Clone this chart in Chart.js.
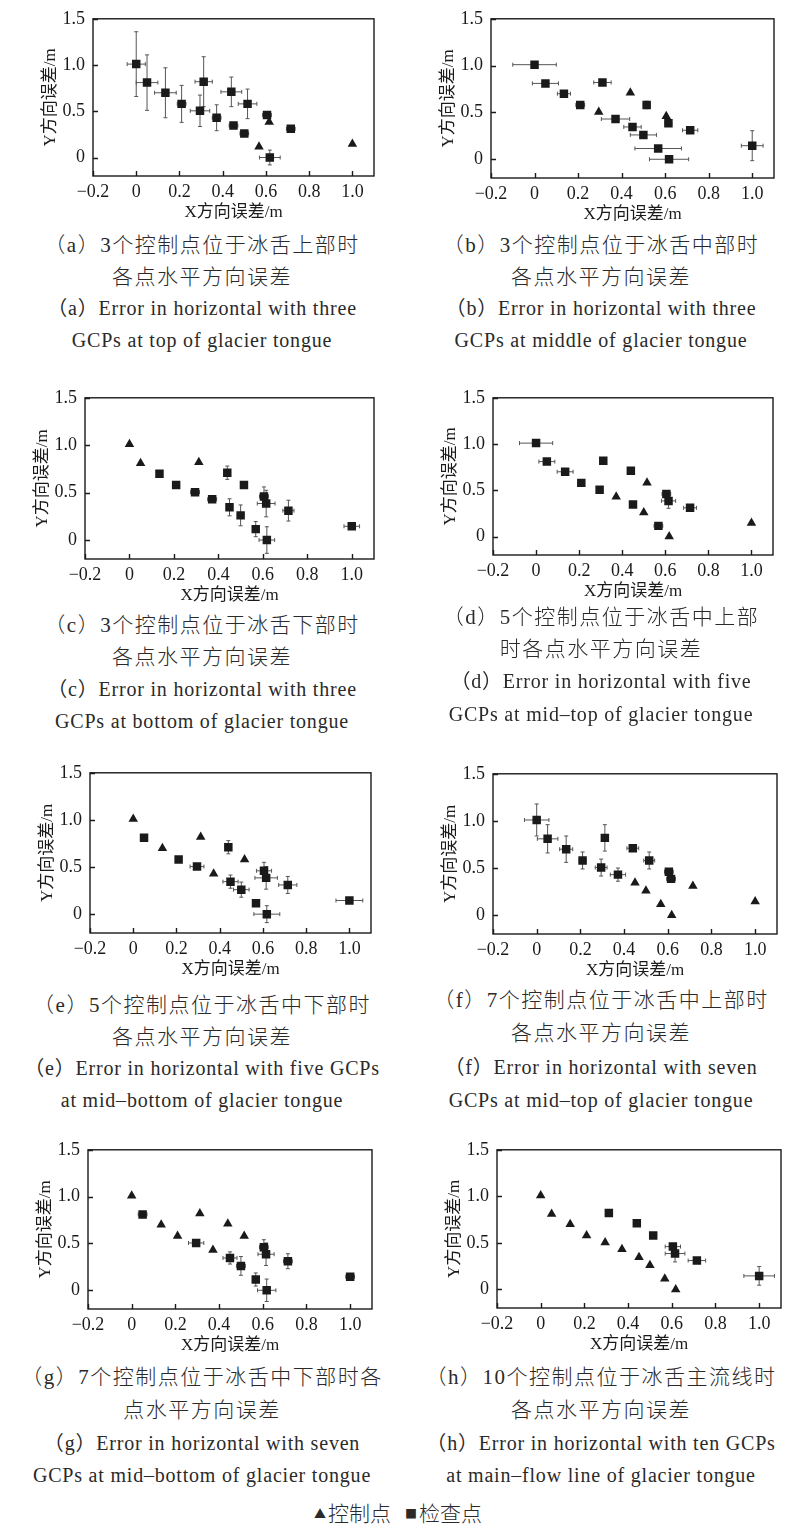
<!DOCTYPE html>
<html lang="zh">
<head>
<meta charset="utf-8">
<title>各点水平方向误差</title>
<script src="https://cdn.jsdelivr.net/npm/chart.js@4.4.1/dist/chart.umd.min.js"></script>
<style>
  html, body { margin: 0; padding: 0; background: #fff; }
  #page { position: relative; width: 796px; height: 1528px; overflow: hidden; background: #fff; }
  #page canvas { position: absolute; }
  .cap {
    position: absolute; width: 440px; height: 32px; line-height: 32px;
    text-align: center; white-space: nowrap; color: #2a2a2a;
    font-family: "Liberation Serif", "Noto Sans CJK SC", serif;
  }
  .cap.cn { font-size: 21px; letter-spacing: 1.5px; font-weight: 300; }
  .cap.en { font-size: 20px; letter-spacing: 0.8px; }
  #legend {
    position: absolute; left: 248px; width: 300px; top: 1496px; height: 32px; line-height: 32px;
    text-align: center; font-family: "Noto Sans CJK SC", sans-serif; font-size: 21px; font-weight: 300; color: #2a2a2a;
  }
  #legend .mk { font-size: 12px; position: relative; top: -2px; margin-right: 2px; }
  #legend .gap { display: inline-block; width: 14px; }
</style>
</head>
<body>
<div id="page">
  <div id="legend"><span class="mk">▲</span>控制点<span class="gap"></span><span class="mk">■</span>检查点</div>
</div>
<script>
// point positions (same 17 points in every panel)
const pointX = [0.0, 0.05, 0.135, 0.21, 0.295, 0.312, 0.372, 0.44, 0.45, 0.515, 0.5, 0.605, 0.615, 0.568, 0.618, 0.715, 1.0];
const pointY = [1.01, 0.81, 0.7, 0.58, 0.505, 0.82, 0.43, 0.71, 0.345, 0.58, 0.26, 0.46, 0.385, 0.115, 0.0, 0.31, 0.145];

const xTicks = [-0.2, 0, 0.2, 0.4, 0.6, 0.8, 1.0];
const xTickLabels = ["−0.2", "0", "0.2", "0.4", "0.6", "0.8", "1.0"];
const yTicks = [0, 0.5, 1.0, 1.5];
const yTickLabels = ["0", "0.5", "1.0", "1.5"];

// control points (1-based point numbers) per panel
const controlA = [13, 14, 17];
const controlB = [5, 8, 12];
const controlC = [1, 2, 6];
const controlD = [7, 10, 11, 15, 17];
const controlE = [1, 3, 6, 7, 10];
const controlF = [9, 11, 14, 15, 16, 17];
const controlG = [1, 3, 4, 6, 7, 8, 10];
const controlH = [1, 2, 3, 4, 5, 7, 9, 11, 14, 15];

// error bar half-widths per panel
const xErrA = [0.042, 0.05, 0.05, 0.02, 0.045, 0.04, 0.02, 0.048, 0.02, 0.043, 0.02, 0.02, 0, 0, 0.048, 0.02, 0];
const yErrA = [0.35, 0.3, 0.27, 0.2, 0.17, 0.27, 0.14, 0.16, 0.03, 0.16, 0.02, 0.03, 0, 0, 0.08, 0.02, 0];
const xErrB = [0.1, 0.06, 0.03, 0.02, 0, 0.04, 0.065, 0, 0.04, 0.015, 0.06, 0, 0.015, 0.107, 0.09, 0.035, 0.05];
const yErrB = [0, 0, 0, 0.015, 0, 0.02, 0, 0, 0, 0.04, 0, 0, 0.02, 0, 0, 0, 0.16];
const xErrC = [0, 0, 0, 0, 0.02, 0, 0.02, 0, 0, 0, 0, 0.02, 0.04, 0, 0.035, 0.025, 0.035];
const yErrC = [0, 0, 0, 0, 0, 0, 0, 0.07, 0.09, 0, 0.11, 0.1, 0.14, 0.08, 0.14, 0.11, 0];
const xErrD = [0.077, 0.037, 0.037, 0, 0, 0.015, 0, 0.015, 0, 0, 0, 0.02, 0.033, 0.02, 0, 0.03, 0];
const yErrD = [0, 0, 0, 0, 0, 0.015, 0, 0.03, 0, 0, 0, 0.03, 0.08, 0, 0, 0, 0];
const xErrE = [0, 0, 0, 0, 0.032, 0, 0, 0, 0.035, 0, 0.036, 0.035, 0.052, 0.015, 0.06, 0.042, 0.062];
const yErrE = [0, 0, 0, 0, 0, 0, 0, 0.07, 0.07, 0, 0.08, 0.09, 0.12, 0.02, 0.09, 0.09, 0];
const xErrF = [0.056, 0.047, 0.03, 0.015, 0.027, 0, 0.035, 0.027, 0, 0.025, 0, 0.02, 0.02, 0, 0, 0, 0];
const yErrF = [0.17, 0.15, 0.14, 0.09, 0.09, 0.14, 0.07, 0.02, 0, 0.09, 0, 0.02, 0.02, 0, 0, 0, 0];
const xErrG = [0, 0.02, 0, 0, 0.035, 0, 0, 0, 0.032, 0, 0.02, 0.02, 0.037, 0.015, 0.042, 0.02, 0.02];
const yErrG = [0, 0, 0, 0, 0, 0, 0, 0, 0.065, 0, 0.1, 0.08, 0.12, 0.07, 0.12, 0.08, 0.015];
const xErrH = [0, 0, 0, 0, 0, 0, 0, 0.015, 0, 0, 0, 0.035, 0.045, 0, 0, 0.04, 0.07];
const yErrH = [0, 0, 0, 0, 0, 0, 0, 0.03, 0, 0, 0, 0.02, 0.09, 0, 0, 0, 0.1];

const panels = [
  { control: controlA, xErr: xErrA, yErr: yErrA, frame: [93, 14, 374, 176], capX: 202, capY: [245, 277, 308, 340],
    lines: ["（a）3个控制点位于冰舌上部时", "各点水平方向误差", "（a）Error in horizontal with three", "GCPs at top of glacier tongue"] },
  { control: controlB, xErr: xErrB, yErr: yErrB, frame: [491, 14, 774, 178], capX: 601, capY: [245, 277, 308, 340],
    lines: ["（b）3个控制点位于冰舌中部时", "各点水平方向误差", "（b）Error in horizontal with three", "GCPs at middle of glacier tongue"] },
  { control: controlC, xErr: xErrC, yErr: yErrC, frame: [85, 393, 374, 559], capX: 202, capY: [625, 657, 689, 721],
    lines: ["（c）3个控制点位于冰舌下部时", "各点水平方向误差", "（c）Error in horizontal with three", "GCPs at bottom of glacier tongue"] },
  { control: controlD, xErr: xErrD, yErr: yErrD, frame: [493, 393, 773, 555], capX: 601, capY: [617, 649, 681, 714],
    lines: ["（d）5个控制点位于冰舌中上部", "时各点水平方向误差", "（d）Error in horizontal with five", "GCPs at mid–top of glacier tongue"] },
  { control: controlE, xErr: xErrE, yErr: yErrE, frame: [90, 768, 371, 933], capX: 202, capY: [1005, 1037, 1068, 1100],
    lines: ["（e）5个控制点位于冰舌中下部时", "各点水平方向误差", "（e）Error in horizontal with five GCPs", "at mid–bottom of glacier tongue"] },
  { control: controlF, xErr: xErrF, yErr: yErrF, frame: [493, 769, 777, 934], capX: 601, capY: [1000, 1033, 1067, 1100],
    lines: ["（f）7个控制点位于冰舌中上部时", "各点水平方向误差", "（f）Error in horizontal with seven", "GCPs at mid–top of glacier tongue"] },
  { control: controlG, xErr: xErrG, yErr: yErrG, frame: [88, 1145, 372, 1309], capX: 202, capY: [1377, 1410, 1443, 1475],
    lines: ["（g）7个控制点位于冰舌中下部时各", "点水平方向误差", "（g）Error in horizontal with seven", "GCPs at mid–bottom of glacier tongue"] },
  { control: controlH, xErr: xErrH, yErr: yErrH, frame: [497, 1145, 781, 1308], capX: 601, capY: [1377, 1410, 1443, 1475],
    lines: ["（h）10个控制点位于冰舌主流线时", "各点水平方向误差", "（h）Error in horizontal with ten GCPs", "at main–flow line of glacier tongue"] },
];

const Y_AXIS_W = 56;
const X_AXIS_H = 48;
const PAD_TOP = 14;
const PAD_RIGHT = 12;
const ink = "#1a1a1a";
const tickFont = { family: '"Liberation Serif", serif', size: 18 };
const titleFont = { family: '"Liberation Serif", "Noto Sans CJK SC", serif', size: 17 };

// error bars under the markers, frame and inward ticks on top
const errorBarPlugin = {
  id: "errorBars",
  beforeDatasetsDraw(chart) {
    const { ctx, scales: { x, y } } = chart;
    ctx.save();
    ctx.strokeStyle = "#555";
    ctx.lineWidth = 1;
    chart.data.datasets.forEach((ds) => {
      ds.data.forEach((p, i) => {
        const px = x.getPixelForValue(p.x);
        const py = y.getPixelForValue(p.y);
        const ex = ds.errX[i];
        const ey = ds.errY[i];
        ctx.beginPath();
        if (ex > 0) {
          const x0 = x.getPixelForValue(p.x - ex);
          const x1 = x.getPixelForValue(p.x + ex);
          ctx.moveTo(x0, py); ctx.lineTo(x1, py);
          ctx.moveTo(x0, py - 2); ctx.lineTo(x0, py + 2);
          ctx.moveTo(x1, py - 2); ctx.lineTo(x1, py + 2);
        }
        if (ey > 0) {
          const y0 = y.getPixelForValue(p.y - ey);
          const y1 = y.getPixelForValue(p.y + ey);
          ctx.moveTo(px, y0); ctx.lineTo(px, y1);
          ctx.moveTo(px - 2, y0); ctx.lineTo(px + 2, y0);
          ctx.moveTo(px - 2, y1); ctx.lineTo(px + 2, y1);
        }
        ctx.stroke();
      });
    });
    ctx.restore();
  },
  afterDraw(chart) {
    const { ctx, chartArea: a, scales: { x, y } } = chart;
    ctx.save();
    ctx.strokeStyle = ink;
    ctx.lineWidth = 1.4;
    ctx.strokeRect(a.left, a.top, a.width, a.height);
    ctx.beginPath();
    x.ticks.forEach((t) => {
      const px = Math.round(x.getPixelForValue(t.value)) + 0.5;
      ctx.moveTo(px, a.bottom); ctx.lineTo(px, a.bottom - 5);
    });
    y.ticks.forEach((t) => {
      const py = Math.round(y.getPixelForValue(t.value)) + 0.5;
      ctx.moveTo(a.left, py); ctx.lineTo(a.left + 5, py);
    });
    ctx.stroke();
    ctx.restore();
  },
};

function pickPoints(panel, isControl) {
  const idx = pointX.map((_, i) => i).filter((i) => panel.control.includes(i + 1) === isControl);
  return {
    data: idx.map((i) => ({ x: pointX[i], y: pointY[i] })),
    errX: idx.map((i) => panel.xErr[i]),
    errY: idx.map((i) => panel.yErr[i]),
  };
}

function renderPanel(panel, page) {
  const [left, top, right, bottom] = panel.frame;
  const canvas = document.createElement("canvas");
  canvas.width = right - left + Y_AXIS_W + PAD_RIGHT;
  canvas.height = bottom - top + PAD_TOP + X_AXIS_H;
  canvas.style.left = left - Y_AXIS_W + "px";
  canvas.style.top = top - PAD_TOP + "px";
  page.appendChild(canvas);

  const check = pickPoints(panel, false);
  const ctrl = pickPoints(panel, true);

  new Chart(canvas, {
    type: "scatter",
    data: {
      datasets: [
        { label: "检查点", ...check, pointStyle: "rect", pointRadius: 6, backgroundColor: ink, borderColor: ink, borderWidth: 0 },
        { label: "控制点", ...ctrl, pointStyle: "triangle", pointRadius: 5.5, backgroundColor: ink, borderColor: ink, borderWidth: 0 },
      ],
    },
    options: {
      responsive: false,
      animation: false,
      events: [],
      layout: { padding: { top: PAD_TOP, right: PAD_RIGHT, left: 0, bottom: 0 } },
      plugins: { legend: { display: false }, tooltip: { enabled: false } },
      scales: {
        x: {
          type: "linear",
          min: -0.2,
          max: 1.1,
          grid: { display: false, drawTicks: false },
          border: { display: false },
          afterBuildTicks: (s) => { s.ticks = xTicks.map((v) => ({ value: v })); },
          afterFit: (s) => { s.height = X_AXIS_H; },
          ticks: { padding: 5, color: ink, font: tickFont, maxRotation: 0, autoSkip: false,
            callback: (v, i) => xTickLabels[i] },
          title: { display: true, text: "X方向误差/m", color: ink, font: titleFont, padding: { top: 0, bottom: 1 } },
        },
        y: {
          type: "linear",
          min: -0.2,
          max: 1.5,
          grid: { display: false, drawTicks: false },
          border: { display: false },
          afterBuildTicks: (s) => { s.ticks = yTicks.map((v) => ({ value: v })); },
          afterFit: (s) => { s.width = Y_AXIS_W; },
          ticks: { padding: 8, color: ink, font: tickFont, autoSkip: false,
            callback: (v, i) => yTickLabels[i] },
          title: { display: true, text: "Y方向误差/m", color: ink, font: titleFont, padding: { top: 3, bottom: 0 } },
        },
      },
    },
    plugins: [errorBarPlugin],
  });

  panel.lines.forEach((text, k) => {
    const div = document.createElement("div");
    div.className = "cap " + (k < 2 ? "cn" : "en");
    div.textContent = text;
    div.style.left = panel.capX - 220 + "px";
    div.style.top = panel.capY[k] - 16 + "px";
    page.appendChild(div);
  });
}

window.addEventListener("DOMContentLoaded", () => {
  const page = document.getElementById("page");
  panels.forEach((panel) => renderPanel(panel, page));
});
</script>
</body>
</html>
